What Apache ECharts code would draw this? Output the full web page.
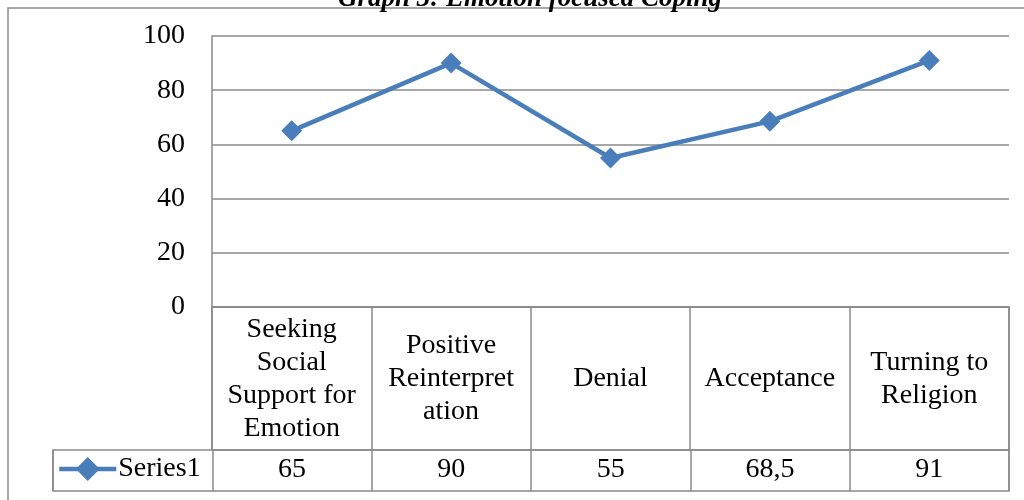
<!DOCTYPE html>
<html>
<head>
<meta charset="utf-8">
<script src="https://cdn.jsdelivr.net/npm/echarts@6/dist/echarts.min.js"></script>
<style>
    html, body { margin: 0; padding: 0; background: #fff; }
    #chart { width: 1024px; height: 500px; }
</style>
</head>
<body>
<div id="chart"></div>
<script>
var categories = ['Seeking Social Support for Emotion', 'Positive Reinterpretation', 'Denial', 'Acceptance', 'Turning to Religion'];
// labels as they wrap in the table header
var categoryLabels = ['Seeking\nSocial\nSupport for\nEmotion', 'Positive\nReinterpret\nation', 'Denial', 'Acceptance', 'Turning to\nReligion'];
var values = [65, 90, 55, 68.5, 91];
var yTicks = [0, 20, 40, 60, 80, 100];
var seriesName = 'Series1';

var FONT = "'Liberation Serif', 'Times New Roman', serif";
var GRAY = '#8a8a8a';
var BLUE = '#4a7ebb';

// value row of the data table: first cell belongs to the legend
var tableValues = [''].concat(values.map(function (v) { return String(v).replace('.', ','); }));

var chart = echarts.init(document.getElementById('chart'));
var option = {
    animation: false,
    title: {
        text: 'Graph 3: Emotion focused Coping',
        left: 525,
        textAlign: 'center',
        top: -19,
        textStyle: { fontFamily: FONT, fontSize: 27, fontWeight: 'bold', fontStyle: 'italic', color: '#000' }
    },
    legend: {
        data: [seriesName],
        left: 57,
        top: 455,
        padding: 0,
        itemWidth: 57,
        itemHeight: 30,
        itemGap: 5,
        lineStyle: { width: 4.5, color: BLUE },
        itemStyle: { color: BLUE },
        textStyle: { fontFamily: FONT, fontSize: 28, color: '#000', padding: [0, 0, 0, -3] }
    },
    graphic: [{
        type: 'rect',
        shape: { x: 8, y: 8, width: 1100, height: 600 },
        style: { fill: null, stroke: GRAY, lineWidth: 1.5 },
        silent: true
    }],
    grid: [
        { left: 212, right: 15, top: 36, bottom: 193 },
        { left: 212, right: 15, top: 307, bottom: 50, show: true, borderColor: GRAY, borderWidth: 1.5 },
        { left: 53, right: 15, top: 450, bottom: 9, show: true, borderColor: GRAY, borderWidth: 1.5 }
    ],
    xAxis: [
        {
            gridIndex: 0,
            type: 'category',
            data: categories,
            boundaryGap: true,
            axisLine: { lineStyle: { color: GRAY, width: 1.5 } },
            axisTick: { show: false },
            splitLine: { show: false },
            axisLabel: {
                interval: 0,
                margin: 72,
                verticalAlign: 'middle',
                fontFamily: FONT,
                fontSize: 28,
                lineHeight: 33,
                color: '#000',
                formatter: function (v, i) { return categoryLabels[i]; }
            }
        },
        {
            gridIndex: 1,
            type: 'category',
            data: categories,
            axisLine: { show: false },
            axisTick: { show: false },
            axisLabel: { show: false },
            splitLine: { show: true, interval: 0, lineStyle: { color: GRAY, width: 1.5 } }
        },
        {
            gridIndex: 2,
            type: 'category',
            data: tableValues,
            axisLine: { show: false },
            axisTick: { show: false },
            splitLine: { show: true, interval: 0, lineStyle: { color: GRAY, width: 1.5 } },
            axisLabel: {
                inside: true,
                interval: 0,
                margin: 21,
                verticalAlign: 'middle',
                fontFamily: FONT,
                fontSize: 28,
                color: '#000'
            }
        }
    ],
    yAxis: [
        {
            gridIndex: 0,
            type: 'value',
            min: yTicks[0],
            max: yTicks[yTicks.length - 1],
            interval: 20,
            axisLine: { show: true, lineStyle: { color: GRAY, width: 1.5 } },
            axisTick: { show: false },
            splitLine: { lineStyle: { color: GRAY, width: 1.5 } },
            axisLabel: { margin: 27, fontFamily: FONT, fontSize: 28, color: '#000' }
        },
        { gridIndex: 1, type: 'value', show: false, splitLine: { show: false } },
        { gridIndex: 2, type: 'value', show: false, splitLine: { show: false } }
    ],
    series: [{
        name: seriesName,
        type: 'line',
        xAxisIndex: 0,
        yAxisIndex: 0,
        data: values,
        symbol: 'diamond',
        symbolSize: 21,
        lineStyle: { color: BLUE, width: 4.5 },
        itemStyle: { color: BLUE }
    }]
};
chart.setOption(option);
</script>
</body>
</html>
